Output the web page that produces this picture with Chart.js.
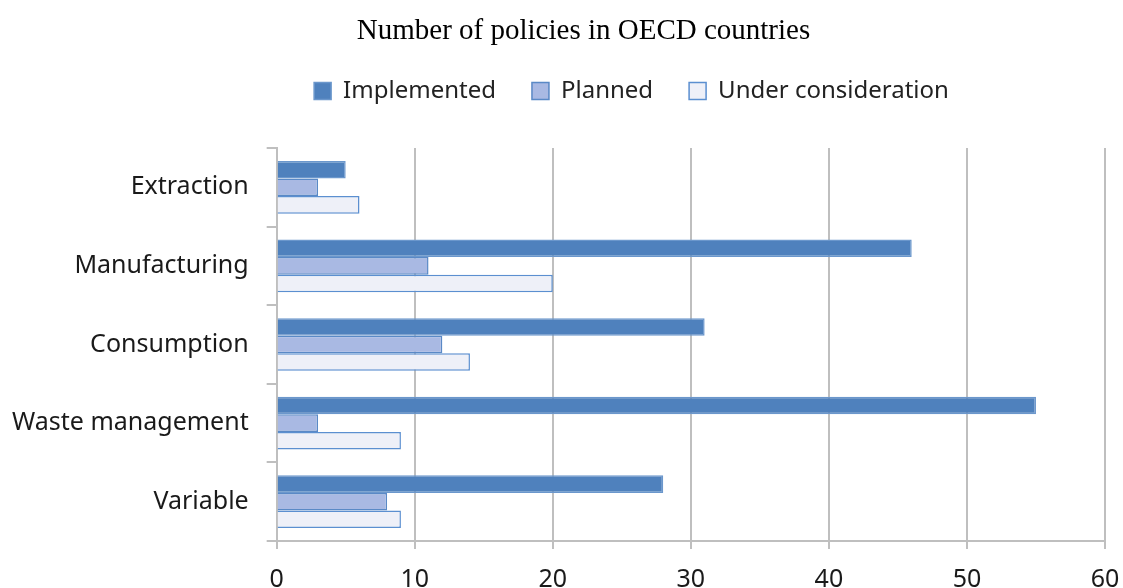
<!DOCTYPE html>
<html>
<head>
<meta charset="utf-8">
<script src="https://cdn.jsdelivr.net/npm/chart.js@4/dist/chart.umd.min.js"></script>
<style>
  html, body { margin: 0; padding: 0; background: #fff; }
  #wrap { width: 1123px; height: 588px; }
</style>
</head>
<body>
<div id="wrap"><canvas id="policyChart" width="1123" height="588"></canvas></div>
<script>
// categories and values
const categories = ['Extraction', 'Manufacturing', 'Consumption', 'Waste management', 'Variable'];
const implemented = [5, 46, 31, 55, 28];
const planned = [3, 11, 12, 3, 8];
const underConsideration = [6, 20, 14, 9, 9];
const xTicks = [0, 10, 20, 30, 40, 50, 60];

const labelFont = 'Noto Sans';
const gridGrey = '#bfbfbf';

// extra room under the legend, and nudge title/legend to where the original has them
const legendGap = {
  id: 'legendGap',
  beforeInit(chart) {
    const fit = chart.legend.fit;
    chart.legend.fit = function () {
      fit.bind(chart.legend)();
      this.height += 35;
    };
    const legendDraw = chart.legend.draw;
    chart.legend.draw = function () {
      chart.ctx.save();
      chart.ctx.translate(73, 0);
      legendDraw.call(this);
      chart.ctx.restore();
    };
    const titleDraw = chart.titleBlock.draw;
    chart.titleBlock.draw = function () {
      chart.ctx.save();
      chart.ctx.translate(25, 3);
      titleDraw.call(this);
      chart.ctx.restore();
    };
  }
};

const ctx = document.getElementById('policyChart').getContext('2d');

window.policyChart = new Chart(ctx, {
  type: 'bar',
  data: {
    labels: categories,
    datasets: [
      {
        label: 'Implemented',
        data: implemented,
        backgroundColor: '#4f81bd',
        borderColor: '#6b97cc',
        borderWidth: 1.5,
      },
      {
        label: 'Planned',
        data: planned,
        backgroundColor: '#a9b9e3',
        borderColor: '#5a89c6',
        borderWidth: 1.5,
      },
      {
        label: 'Under consideration',
        data: underConsideration,
        backgroundColor: '#eef0f8',
        borderColor: '#5b8fd0',
        borderWidth: 1.5,
      },
    ]
  },
  options: {
    indexAxis: 'y',
    responsive: false,
    animation: false,
    devicePixelRatio: 1,
    layout: {
      padding: { left: -6, right: 0, top: 0, bottom: -22 }
    },
    datasets: {
      bar: {
        categoryPercentage: 0.67,
        barPercentage: 1.0,
      }
    },
    plugins: {
      title: {
        display: true,
        text: 'Number of policies in OECD countries',
        color: '#000',
        font: { family: 'Liberation Serif', size: 29, weight: 'normal', lineHeight: 1 },
        padding: { top: 14, bottom: 0 }
      },
      legend: {
        position: 'top',
        labels: {
          color: '#222',
          boxWidth: 17,
          boxHeight: 17,
          padding: 36,
          font: { family: labelFont, size: 24 }
        }
      },
      tooltip: { enabled: false }
    },
    scales: {
      x: {
        min: 0,
        max: 60,
        afterBuildTicks: (axis) => { axis.ticks = xTicks.map(v => ({ value: v })); },
        afterFit: (axis) => { axis.paddingRight = 18; },
        grid: {
          color: gridGrey,
          lineWidth: 2,
          tickLength: 8,
        },
        border: { color: gridGrey, width: 2 },
        ticks: {
          color: '#1a1a1a',
          padding: 18,
          font: { family: labelFont, size: 25, lineHeight: 1 }
        }
      },
      y: {
        grid: {
          offset: true,
          drawOnChartArea: false,
          color: gridGrey,
          lineWidth: 2,
          tickLength: 10,
        },
        border: { color: gridGrey, width: 2 },
        ticks: {
          color: '#1a1a1a',
          padding: 18,
          font: { family: labelFont, size: 25 }
        }
      }
    }
  },
  plugins: [legendGap]
});
</script>
</body>
</html>
